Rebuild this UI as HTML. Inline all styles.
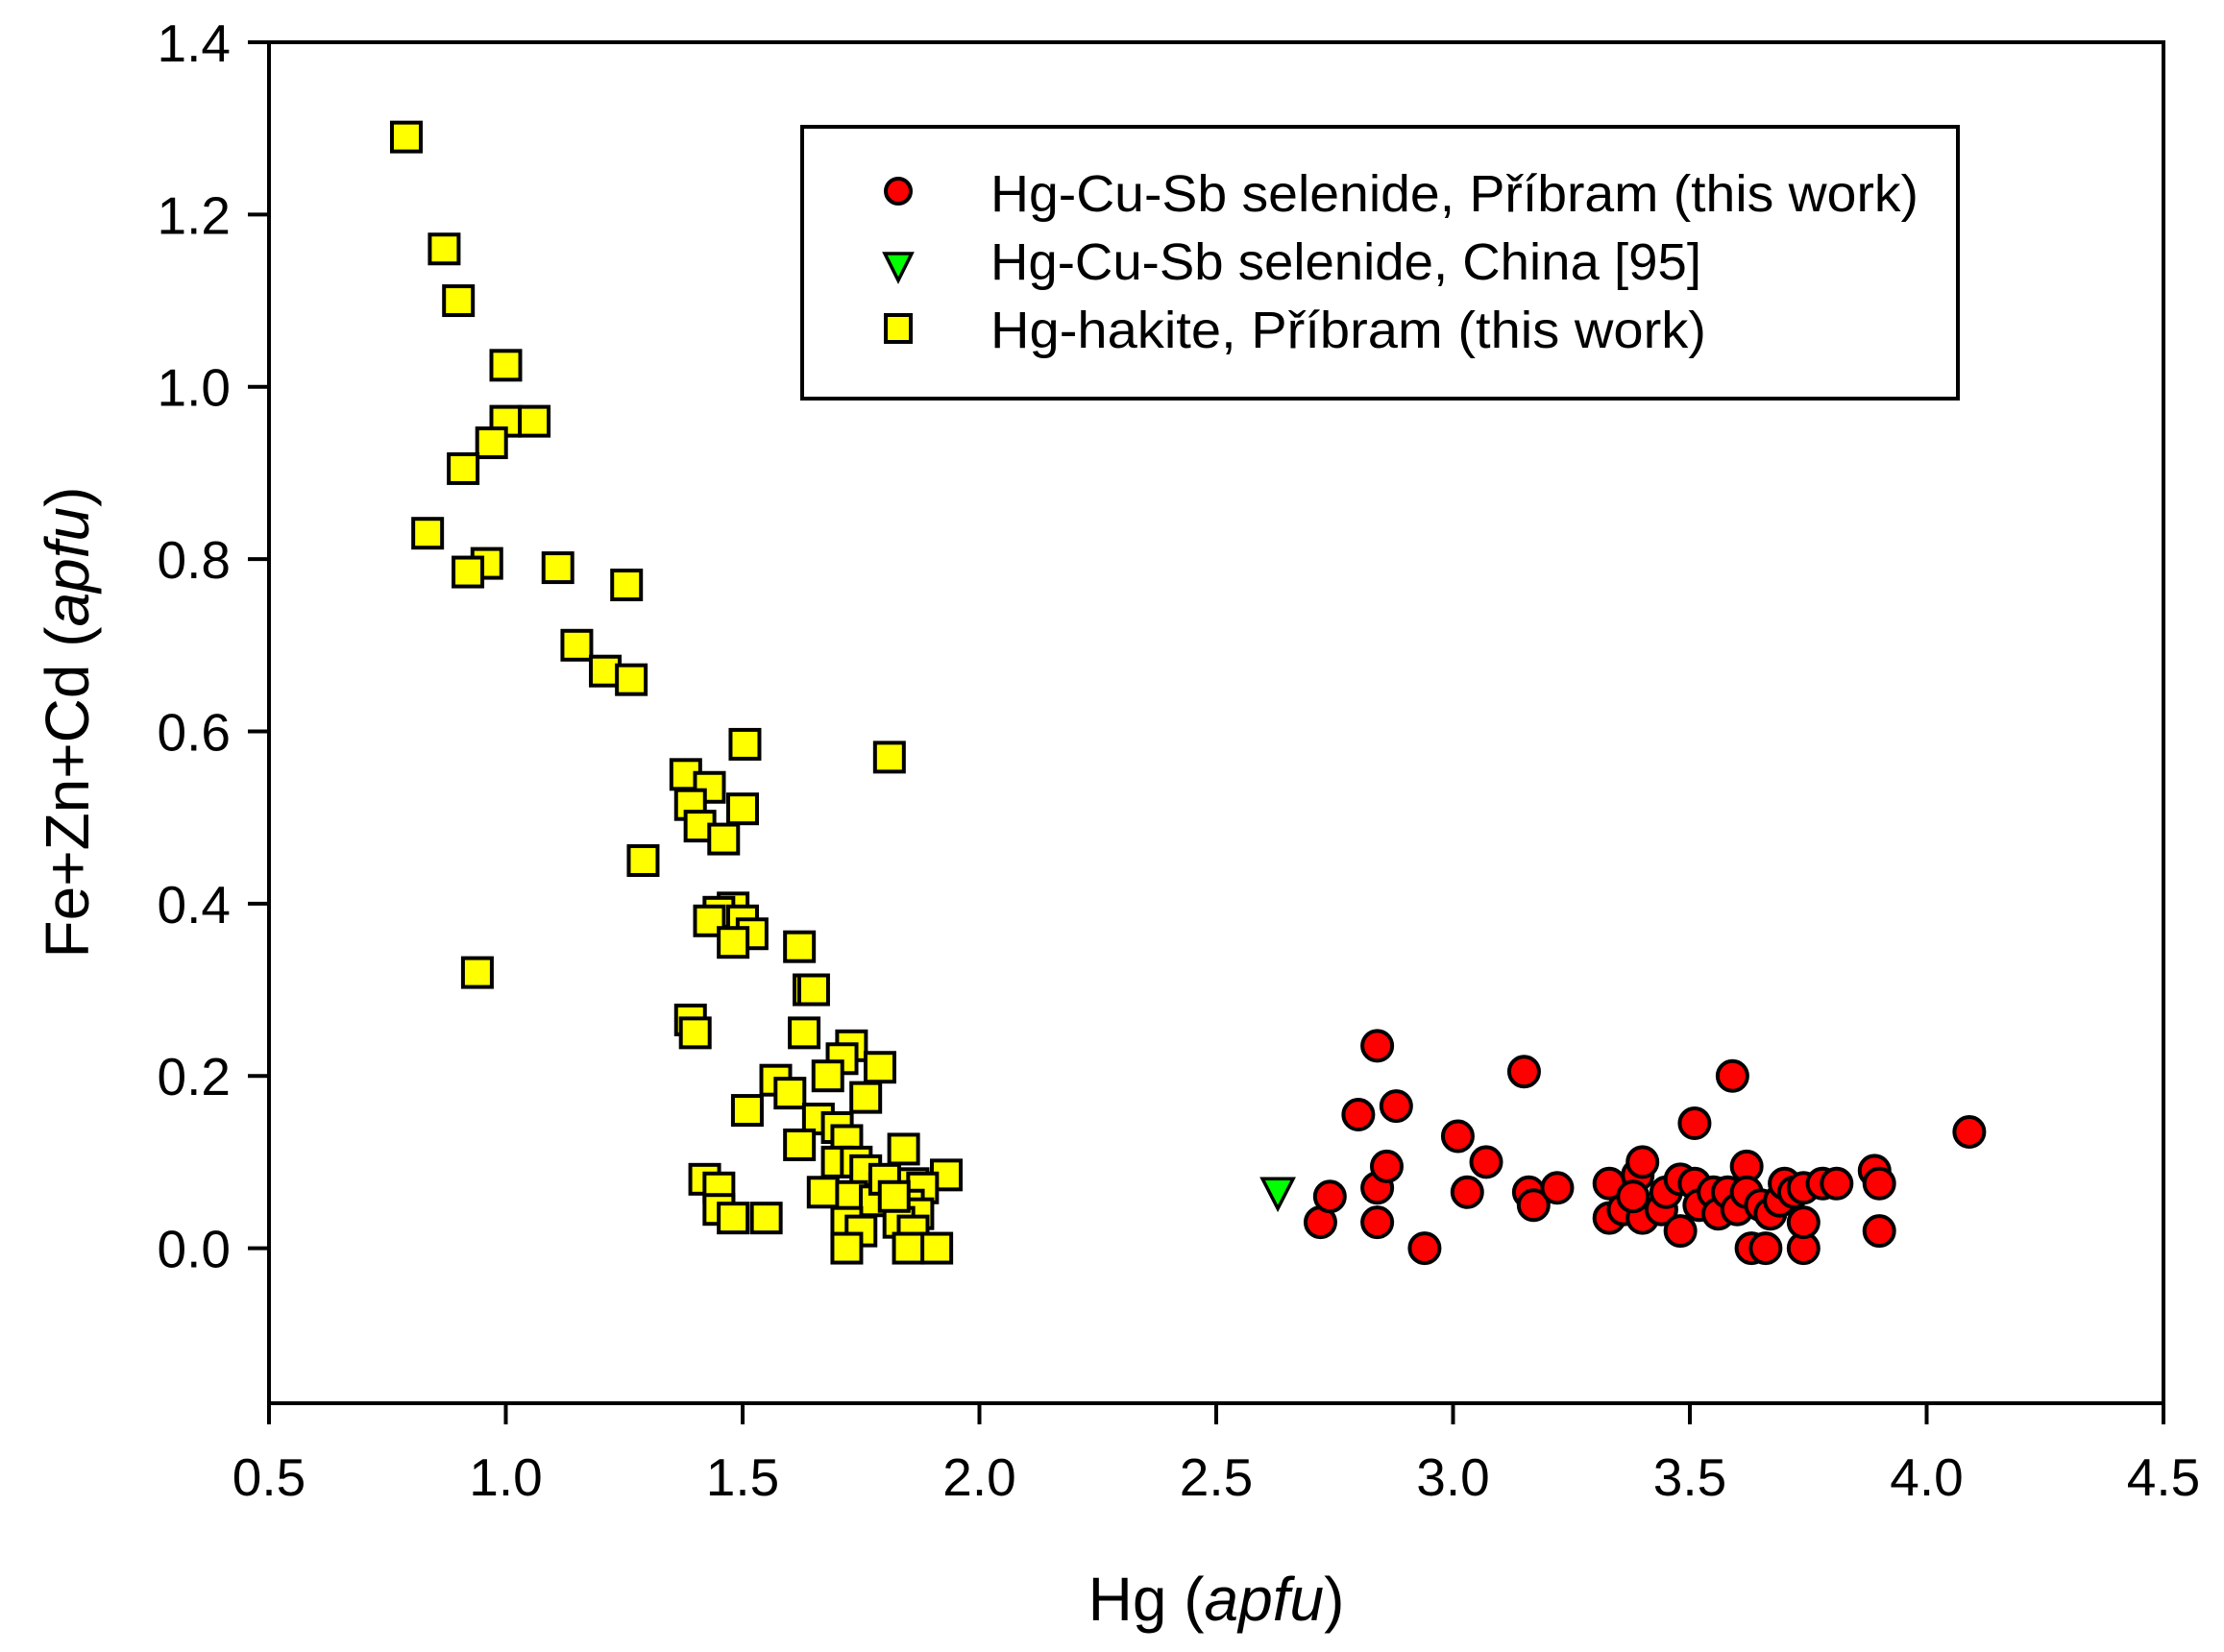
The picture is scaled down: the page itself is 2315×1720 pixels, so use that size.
<!DOCTYPE html>
<html><head><meta charset="utf-8"><style>
html,body{margin:0;padding:0;background:#fff;}
svg{display:block;font-family:"Liberation Sans",Arial,sans-serif;}
</style></head><body>
<svg id="chart" width="2315" height="1720" viewBox="0 0 2315 1720" xmlns="http://www.w3.org/2000/svg">
<g id="axes"></g>
<g id="marks"></g>
<g id="legend">
  <rect x="835" y="132" width="1203" height="283" fill="#fff" stroke="#000" stroke-width="4"/>
  <circle cx="935" cy="199" r="13" fill="#ff0000" stroke="#000" stroke-width="4"/>
  <polygon points="921,264 949,264 935,292" fill="#00ff00" stroke="#000" stroke-width="3.5"/>
  <rect x="922" y="328" width="26" height="28" fill="#ffff00" stroke="#000" stroke-width="4"/>
  <text x="1031" y="220" font-size="54" textLength="966" lengthAdjust="spacingAndGlyphs">Hg-Cu-Sb selenide, Příbram (this work)</text>
  <text x="1031" y="291" font-size="54" textLength="740" lengthAdjust="spacingAndGlyphs">Hg-Cu-Sb selenide, China [95]</text>
  <text x="1031" y="362" font-size="54" textLength="745" lengthAdjust="spacingAndGlyphs">Hg-hakite, Příbram (this work)</text>
</g>
</svg>
<script>
const xTicks = [0.5,1.0,1.5,2.0,2.5,3.0,3.5,4.0,4.5];
const xTickLabels = ["0.5","1.0","1.5","2.0","2.5","3.0","3.5","4.0","4.5"];
const yTicks = [0.0,0.2,0.4,0.6,0.8,1.0,1.2,1.4];
const yTickLabels = ["0.0","0.2","0.4","0.6","0.8","1.0","1.2","1.4"];
const hakiteX = [0.79,0.87,0.90,1.0,1.0,1.06,0.97,0.91,0.835,0.96,0.92,1.11,1.255,1.15,1.21,1.265,1.505,1.81,1.38,1.43,1.39,1.50,1.41,1.46,1.29,1.48,1.45,1.43,1.50,1.52,1.48,0.94,1.62,1.64,1.65,1.39,1.40,1.63,1.73,1.71,1.79,1.68,1.57,1.60,1.76,1.51,1.66,1.70,1.62,1.72,1.84,1.70,1.74,1.76,1.93,1.42,1.45,1.67,1.80,1.86,1.88,1.73,1.78,1.85,1.87,1.45,1.48,1.55,1.72,1.83,1.75,1.86,1.72,1.85,1.91,1.80,1.82];
const hakiteY = [1.29,1.16,1.10,1.025,0.96,0.96,0.935,0.905,0.83,0.795,0.785,0.79,0.77,0.70,0.67,0.66,0.585,0.57,0.55,0.535,0.515,0.51,0.49,0.475,0.45,0.395,0.39,0.38,0.38,0.365,0.355,0.32,0.35,0.30,0.30,0.265,0.25,0.25,0.235,0.22,0.21,0.20,0.195,0.18,0.175,0.16,0.15,0.14,0.12,0.125,0.115,0.10,0.10,0.09,0.085,0.08,0.07,0.065,0.07,0.075,0.07,0.06,0.055,0.05,0.04,0.045,0.035,0.035,0.03,0.03,0.02,0.02,0.0,0.0,0.0,0.08,0.06];
const selX = [2.72,2.74,2.84,2.80,2.88,2.84,2.86,2.84,2.94,3.01,3.03,3.07,3.15,3.16,3.17,3.22,3.33,3.33,3.36,3.39,3.40,3.40,3.38,3.44,3.45,3.48,3.48,3.51,3.51,3.52,3.55,3.56,3.58,3.59,3.60,3.62,3.62,3.63,3.65,3.66,3.67,3.69,3.70,3.72,3.74,3.74,3.74,3.78,3.81,3.89,3.90,3.90,4.09];
const selY = [0.03,0.06,0.235,0.155,0.165,0.07,0.095,0.03,0.0,0.13,0.065,0.10,0.205,0.065,0.05,0.07,0.075,0.035,0.045,0.085,0.10,0.035,0.06,0.045,0.065,0.08,0.02,0.145,0.075,0.05,0.065,0.04,0.065,0.20,0.045,0.095,0.065,0.0,0.05,0.0,0.04,0.055,0.075,0.065,0.07,0.0,0.03,0.075,0.075,0.09,0.075,0.02,0.135];
const chinaX = [2.63];
const chinaY = [0.065];

const X0=280, X1=2252, Y0=1461, Y1=44;
const xMin=0.5, xMax=4.5, yMin=-0.18, yMax=1.4;
function sx(v){return X0+(v-xMin)/(xMax-xMin)*(X1-X0);}
function sy(v){return Y0-(v-yMin)/(yMax-yMin)*(Y0-Y1);}
const NS="http://www.w3.org/2000/svg";
function mk(tag,attrs,parent){const e=document.createElementNS(NS,tag);for(const k in attrs)e.setAttribute(k,attrs[k]);parent.appendChild(e);return e;}
const axes=document.getElementById('axes');
const marks=document.getElementById('marks');

let frame=mk('rect',{x:X0,y:Y1,width:X1-X0,height:Y0-Y1,fill:'none',stroke:'#000','stroke-width':4},axes);



xTicks.forEach((t,i)=>{
  const x=sx(t);
  const l=mk('line',{x1:x,y1:Y0,x2:x,y2:Y0+22,stroke:'#000','stroke-width':4},axes);
  
  
  const tx=mk('text',{x:x,y:Y0+96,'font-size':55,'text-anchor':'middle'},axes);
  tx.textContent=xTickLabels[i];
  
  
});
yTicks.forEach((t,i)=>{
  const y=sy(t);
  const l=mk('line',{x1:X0-22,y1:y,x2:X0,y2:y,stroke:'#000','stroke-width':4},axes);
  
  
  const tx=mk('text',{x:X0-40,y:y+20,'font-size':55,'text-anchor':'end'},axes);
  tx.textContent=yTickLabels[i];
  
  
});
const xt=mk('text',{x:1266,y:1687,'font-size':64,'text-anchor':'middle'},axes);
xt.innerHTML='Hg (<tspan font-style="italic">apfu</tspan>)';


const yt=mk('text',{x:0,y:0,'font-size':64,'text-anchor':'middle',transform:'translate(92,752) rotate(-90)'},axes);
yt.innerHTML='Fe+Zn+Cd (<tspan font-style="italic">apfu</tspan>)';



hakiteX.forEach((v,i)=>{
  const r=mk('rect',{x:sx(v)-15,y:sy(hakiteY[i])-15,width:30,height:30,fill:'#ffff00',stroke:'#000','stroke-width':4},marks);
  
  
});
selX.forEach((v,i)=>{
  const c=mk('circle',{cx:sx(v),cy:sy(selY[i]),r:15.5,fill:'#ff0000',stroke:'#000','stroke-width':4},marks);
  
  
});
chinaX.forEach((v,i)=>{
  const x=sx(v), y=sy(chinaY[i]);
  const p=mk('polygon',{points:`${x-16},${y-14} ${x+16},${y-14} ${x},${y+17}`,fill:'#00ff00',stroke:'#000','stroke-width':3.5},marks);
  
  
});
</script>
</body></html>
